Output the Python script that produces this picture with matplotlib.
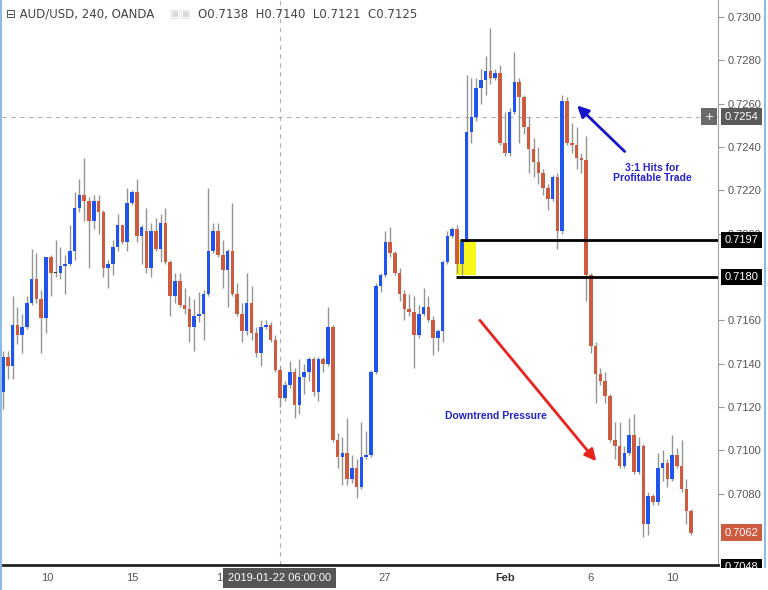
import numpy as np
import matplotlib
matplotlib.use("Agg")
from matplotlib import pyplot as plt
from matplotlib.patches import Rectangle
from matplotlib.lines import Line2D

# AUD/USD 4h candles
opens = [0.7127, 0.7143, 0.7139, 0.7158, 0.7153, 0.7157, 0.7168, 0.7179, 0.7170, 0.7161,
         0.7189, 0.7182, 0.7182, 0.7185, 0.7186, 0.7192, 0.7212, 0.7218, 0.7215, 0.7206,
         0.7215, 0.7210, 0.7184, 0.7186, 0.7194, 0.7204, 0.7196, 0.7214, 0.7219, 0.7199,
         0.7201, 0.7184, 0.7201, 0.7193, 0.7205, 0.7187, 0.7171, 0.7178, 0.7167, 0.7165,
         0.7157, 0.7162, 0.7163, 0.7172, 0.7192, 0.7201, 0.7190, 0.7183, 0.7192, 0.7172,
         0.7163, 0.7155, 0.7168, 0.7154, 0.7145, 0.7157, 0.7158, 0.7151, 0.7137, 0.7124,
         0.7130, 0.7136, 0.7121, 0.7134, 0.7136, 0.7142, 0.7127, 0.7142, 0.7140, 0.7157,
         0.7105, 0.7097, 0.7099, 0.7087, 0.7092, 0.7083, 0.7097, 0.7098, 0.7136, 0.7176,
         0.7181, 0.7196, 0.7191, 0.7182, 0.7172, 0.7165, 0.7164, 0.7153, 0.7163, 0.7166,
         0.7160, 0.7152, 0.7155, 0.7187, 0.7199, 0.7202, 0.7186, 0.7196, 0.7247, 0.7254,
         0.7267, 0.7271, 0.7275, 0.7272, 0.7274, 0.7242, 0.7237, 0.7256, 0.7270, 0.7263,
         0.7249, 0.7239, 0.7233, 0.7228, 0.7221, 0.7216, 0.7226, 0.7201, 0.7261, 0.7242,
         0.7241, 0.7235, 0.7234, 0.7181, 0.7148, 0.7135, 0.7132, 0.7125, 0.7105, 0.7102,
         0.7093, 0.7099, 0.7107, 0.7090, 0.7102, 0.7066, 0.7079, 0.7076, 0.7092, 0.7094,
         0.7087, 0.7098, 0.7093, 0.7082, 0.7072]
highs = [0.7146, 0.7146, 0.7171, 0.7166, 0.7163, 0.7171, 0.7193, 0.7191, 0.7174, 0.7189,
         0.7190, 0.7197, 0.7194, 0.7190, 0.7204, 0.7219, 0.7225, 0.7235, 0.7217, 0.7218,
         0.7218, 0.7211, 0.7188, 0.7197, 0.7209, 0.7204, 0.7221, 0.7220, 0.7225, 0.7204,
         0.7212, 0.7205, 0.7207, 0.7209, 0.7212, 0.7188, 0.7182, 0.7182, 0.7175, 0.7171,
         0.7170, 0.7173, 0.7174, 0.7221, 0.7205, 0.7205, 0.7197, 0.7193, 0.7214, 0.7177,
         0.7168, 0.7182, 0.7176, 0.7157, 0.7160, 0.7160, 0.7159, 0.7153, 0.7139, 0.7132,
         0.7141, 0.7138, 0.7142, 0.7140, 0.7143, 0.7143, 0.7143, 0.7143, 0.7166, 0.7158,
         0.7108, 0.7106, 0.7115, 0.7098, 0.7096, 0.7113, 0.7109, 0.7137, 0.7177, 0.7182,
         0.7201, 0.7203, 0.7192, 0.7184, 0.7174, 0.7172, 0.7171, 0.7167, 0.7175, 0.7171,
         0.7162, 0.7156, 0.7188, 0.7201, 0.7203, 0.7204, 0.7197, 0.7273, 0.7272, 0.7272,
         0.7276, 0.7282, 0.7295, 0.7276, 0.7278, 0.7256, 0.7258, 0.7284, 0.7272, 0.7264,
         0.7254, 0.7244, 0.7240, 0.7230, 0.7223, 0.7227, 0.7228, 0.7264, 0.7263, 0.7251,
         0.7249, 0.7237, 0.7245, 0.7182, 0.7150, 0.7138, 0.7136, 0.7126, 0.7113, 0.7113,
         0.7102, 0.7115, 0.7117, 0.7106, 0.7103, 0.7081, 0.7080, 0.7099, 0.7100, 0.7096,
         0.7107, 0.7101, 0.7105, 0.7087, 0.7073]
lows = [0.7119, 0.7133, 0.7133, 0.7149, 0.7145, 0.7156, 0.7167, 0.7168, 0.7145, 0.7154,
        0.7171, 0.7180, 0.7179, 0.7172, 0.7185, 0.7188, 0.7210, 0.7206, 0.7184, 0.7202,
        0.7200, 0.7180, 0.7175, 0.7181, 0.7192, 0.7195, 0.7192, 0.7213, 0.7196, 0.7186,
        0.7182, 0.7180, 0.7192, 0.7187, 0.7186, 0.7162, 0.7168, 0.7166, 0.7163, 0.7150,
        0.7146, 0.7159, 0.7151, 0.7171, 0.7191, 0.7189, 0.7175, 0.7166, 0.7171, 0.7162,
        0.7150, 0.7153, 0.7151, 0.7143, 0.7139, 0.7156, 0.7150, 0.7136, 0.7120, 0.7123,
        0.7129, 0.7115, 0.7117, 0.7126, 0.7132, 0.7125, 0.7123, 0.7136, 0.7139, 0.7104,
        0.7092, 0.7084, 0.7084, 0.7085, 0.7078, 0.7082, 0.7096, 0.7097, 0.7135, 0.7173,
        0.7180, 0.7189, 0.7181, 0.7169, 0.7160, 0.7162, 0.7138, 0.7152, 0.7162, 0.7159,
        0.7144, 0.7146, 0.7150, 0.7186, 0.7198, 0.7182, 0.7181, 0.7196, 0.7242, 0.7252,
        0.7260, 0.7264, 0.7269, 0.7271, 0.7241, 0.7236, 0.7236, 0.7255, 0.7242, 0.7246,
        0.7228, 0.7226, 0.7223, 0.7218, 0.7211, 0.7215, 0.7193, 0.7200, 0.7241, 0.7237,
        0.7230, 0.7228, 0.7169, 0.7145, 0.7122, 0.7130, 0.7122, 0.7104, 0.7096, 0.7092,
        0.7092, 0.7098, 0.7089, 0.7089, 0.7060, 0.7061, 0.7075, 0.7075, 0.7086, 0.7083,
        0.7086, 0.7092, 0.7081, 0.7066, 0.7061]
closes = [0.7143, 0.7139, 0.7158, 0.7153, 0.7157, 0.7168, 0.7179, 0.7170, 0.7161, 0.7189,
          0.7182, 0.7182, 0.7185, 0.7186, 0.7192, 0.7212, 0.7218, 0.7215, 0.7206, 0.7215,
          0.7210, 0.7184, 0.7186, 0.7194, 0.7204, 0.7196, 0.7214, 0.7219, 0.7199, 0.7203,
          0.7184, 0.7201, 0.7193, 0.7205, 0.7187, 0.7171, 0.7178, 0.7167, 0.7165, 0.7157,
          0.7162, 0.7163, 0.7172, 0.7192, 0.7201, 0.7190, 0.7183, 0.7192, 0.7172, 0.7163,
          0.7155, 0.7168, 0.7154, 0.7145, 0.7157, 0.7158, 0.7151, 0.7137, 0.7124, 0.7130,
          0.7136, 0.7121, 0.7134, 0.7136, 0.7142, 0.7127, 0.7142, 0.7140, 0.7157, 0.7105,
          0.7097, 0.7099, 0.7087, 0.7092, 0.7083, 0.7097, 0.7098, 0.7136, 0.7176, 0.7181,
          0.7196, 0.7191, 0.7182, 0.7172, 0.7165, 0.7164, 0.7153, 0.7163, 0.7166, 0.7160,
          0.7152, 0.7155, 0.7187, 0.7199, 0.7202, 0.7186, 0.7196, 0.7247, 0.7254, 0.7267,
          0.7271, 0.7275, 0.7272, 0.7274, 0.7242, 0.7237, 0.7256, 0.7270, 0.7263, 0.7249,
          0.7239, 0.7233, 0.7228, 0.7221, 0.7216, 0.7226, 0.7201, 0.7261, 0.7242, 0.7241,
          0.7235, 0.7234, 0.7181, 0.7148, 0.7135, 0.7132, 0.7125, 0.7105, 0.7102, 0.7093,
          0.7099, 0.7107, 0.7090, 0.7102, 0.7066, 0.7079, 0.7076, 0.7092, 0.7094, 0.7087,
          0.7098, 0.7093, 0.7082, 0.7072, 0.7062]

date_pos = [9.2, 27.0, 45.8, 79.9, 105.0, 123.0, 140.0]
date_labels = ['10', '15', '18', '27', 'Feb', '6', '10']
price_ticks = [0.7080, 0.7100, 0.7120, 0.7140, 0.7160,
               0.7200, 0.7220, 0.7240, 0.7260, 0.7280, 0.7300]
levels = [0.7197, 0.7180]
entry_zone = (0.7181, 0.7197)
crosshair_price = 0.7254
last_price = 0.7062

UP = '#1f55ee'
DOWN = '#cc5b3f'
WICK = '#959595'

o = np.array(opens)
h = np.array(highs)
l = np.array(lows)
c = np.array(closes)
idx = np.arange(len(o))

fig = plt.figure(figsize=(7.68, 5.90), dpi=100)
ax = fig.add_axes([2 / 768, 25 / 590, 716 / 768, 565 / 590])
ax.set_xlim(-0.2, 149.6)
ax.set_ylim(0.70471, 0.73078)

# candles
ax.vlines(idx, l, h, color=WICK, lw=1, zorder=2)
cols = [UP if cc > oo else (DOWN if cc < oo else '#333333') for oo, cc in zip(o, c)]
body = np.maximum(np.abs(c - o), 0.00003)
ax.bar(idx, body, bottom=np.minimum(o, c), width=0.74, color=cols, lw=0, zorder=3)

# entry zone + levels
ax.add_patch(Rectangle((94.8, entry_zone[0]), 4.1, entry_zone[1] - entry_zone[0],
                       color='#f7f71a', lw=0, zorder=1))
ax.hlines(levels[0], 95.6, 149.6, color='black', lw=2, zorder=4)
ax.hlines(levels[1], 94.8, 149.6, color='black', lw=2, zorder=4)

# crosshair
ax.axvline(57.9, color='#b0b0b0', lw=0.8, ls=(0, (4, 4)), zorder=0)
ax.axhline(crosshair_price, color='#b0b0b0', lw=0.8, ls=(0, (4, 4)), zorder=0)

# annotations
ax.annotate('', xy=(119.7, 0.7260), xytext=(130.5, 0.7237),
            arrowprops=dict(arrowstyle='-|>', color='#1414c8', lw=2, mutation_scale=17))
ax.text(135.8, 0.7228, '3:1 Hits for\nProfitable Trade', ha='center', va='center',
        color='#2323c8', fontsize=7.5, fontweight='bold', family='Liberation Sans',
        linespacing=1.1)
ax.annotate('', xy=(124.5, 0.7094), xytext=(99.4, 0.7161),
            arrowprops=dict(arrowstyle='-|>', color='#e8221e', lw=2, mutation_scale=17))
ax.text(103.1, 0.7116, 'Downtrend Pressure', ha='center', va='center',
        color='#2323c8', fontsize=7.5, fontweight='bold', family='Liberation Sans')

# axes styling
for s in ['top', 'left']:
    ax.spines[s].set_visible(False)
ax.spines['right'].set_color('#a0a0a0')
ax.spines['bottom'].set_color('#222222')
ax.spines['bottom'].set_linewidth(2)
ax.yaxis.tick_right()
ax.set_yticks(price_ticks)
ax.set_yticklabels(['%.4f' % p for p in price_ticks])
ax.tick_params(axis='y', length=4, color='#999999', pad=3, labelsize=8,
               labelcolor='#555555')
ax.set_xticks(date_pos)
ax.set_xticklabels(date_labels)
ax.tick_params(axis='x', length=0, pad=6, labelsize=8, labelcolor='#555555')
for t in ax.get_yticklabels() + ax.get_xticklabels():
    t.set_family('Liberation Sans')
ax.get_xticklabels()[4].set_fontweight('bold')
ax.get_xticklabels()[4].set_color('#333333')

# price boxes on the scale
ytr = ax.get_yaxis_transform()
box_kw = dict(transform=ytr, ha='left', va='center', fontsize=8, color='white',
              family='Liberation Sans', clip_on=False, zorder=10)
ax.text(1.009, crosshair_price, '0.7254',
        bbox=dict(boxstyle='square,pad=0.3', fc='#5a5a5a', ec='none'), **box_kw)
ax.text(0.988, crosshair_price, '+', transform=ytr, ha='center', va='center',
        fontsize=8, color='white', clip_on=False, zorder=10,
        bbox=dict(boxstyle='square,pad=0.3', fc='#6a6a6a', ec='none'))
for lv in levels:
    ax.text(1.009, lv, '%.4f' % lv,
            bbox=dict(boxstyle='square,pad=0.3', fc='black', ec='none'), **box_kw)
ax.text(1.009, last_price, '%.4f' % last_price,
        bbox=dict(boxstyle='square,pad=0.3', fc='#cc5b3f', ec='none'), **box_kw)
ax.text(1.009, 0.70462, '0.7048',
        bbox=dict(boxstyle='square,pad=0.3', fc='black', ec='none'), **box_kw)

# crosshair date box
ax.text(57.9, -0.023, '2019-01-22 06:00:00', transform=ax.get_xaxis_transform(),
        ha='center', va='center', fontsize=8, color='white', family='Liberation Sans',
        clip_on=False, zorder=10,
        bbox=dict(boxstyle='square,pad=0.45', fc='#555555', ec='none'))

# hide bottom part of the 0.7048 box below the price strip
fig.patches.append(Rectangle((718 / 768, 0), 50 / 768, 22 / 590, transform=fig.transFigure,
                             fc='white', ec='none', zorder=5))
# window borders
fig.add_artist(Line2D([1 / 768, 1 / 768], [0, 1], color='#8dbde6', lw=1.5))
fig.add_artist(Line2D([765 / 768, 765 / 768], [0, 1], color='#8dbde6', lw=1.5))

# header
fig.text(6 / 768, 1 - 14 / 590, '\u229f AUD/USD, 240, OANDA', ha='left', va='center',
         fontsize=8.5, color='#444444', family='DejaVu Sans')
fig.text(170 / 768, 1 - 14 / 590, '\u25a3\u25a3', ha='left', va='center', fontsize=8,
         color='#d8d8d8', family='DejaVu Sans')
fig.text(198 / 768, 1 - 14 / 590, 'O0.7138  H0.7140  L0.7121  C0.7125', ha='left',
         va='center', fontsize=8.5, color='#444444', family='DejaVu Sans')

fig.savefig('out.png', dpi=100)
